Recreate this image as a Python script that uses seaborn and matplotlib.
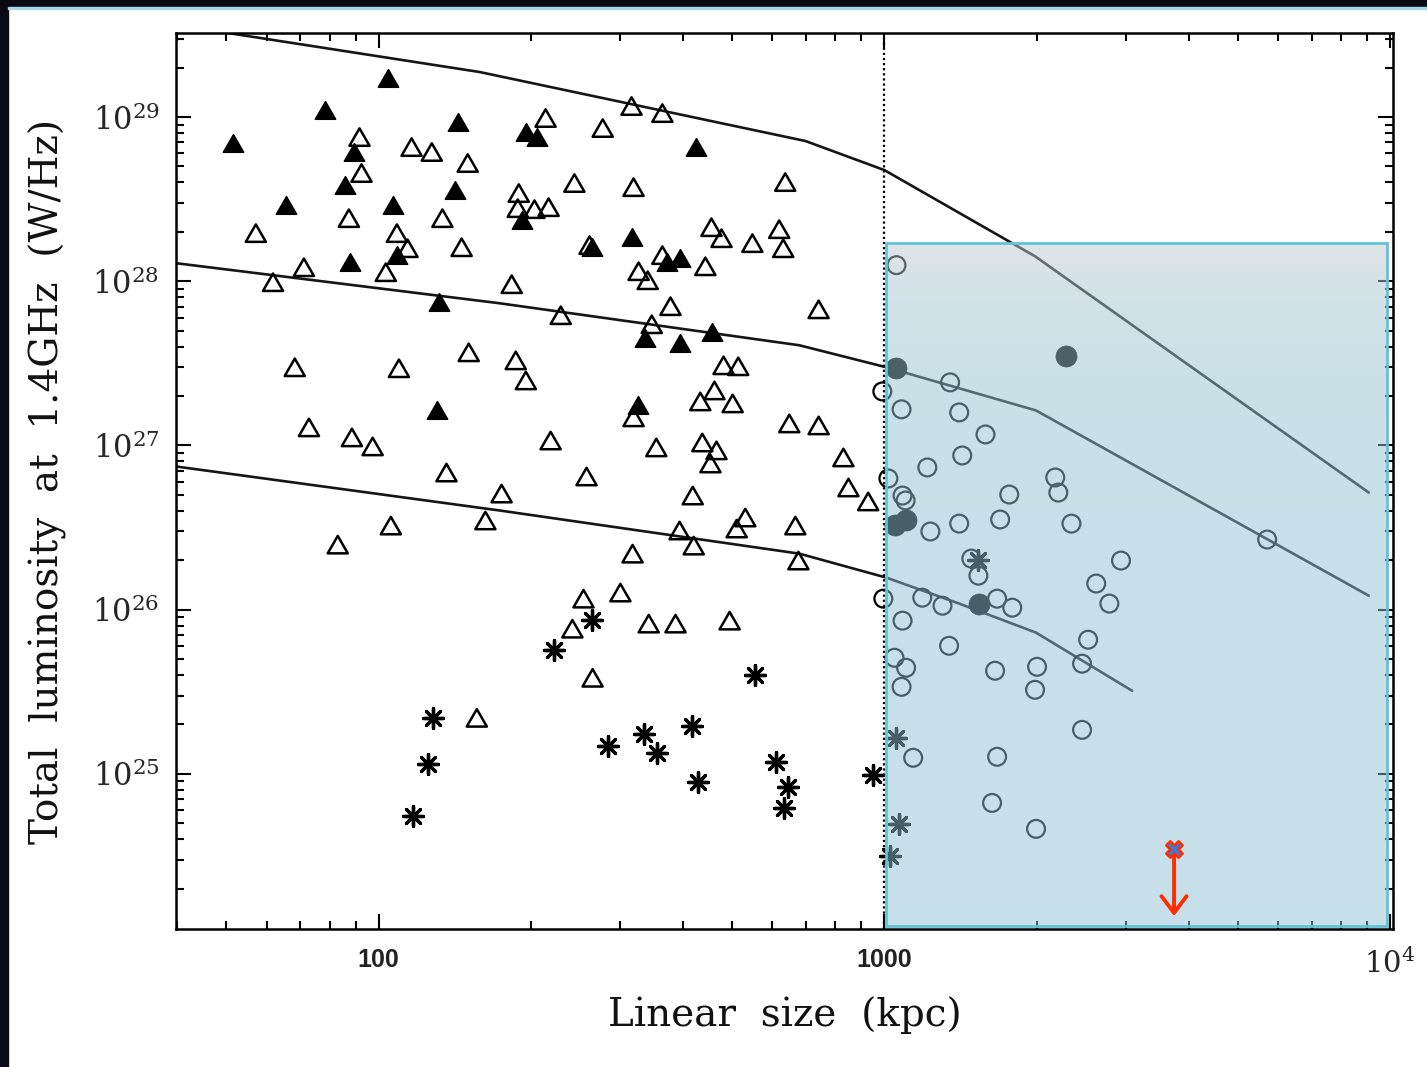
import numpy as np
import matplotlib
matplotlib.use("Agg")
import matplotlib.pyplot as plt
import seaborn as sns
from matplotlib.patches import Rectangle
from matplotlib.path import Path
from matplotlib.ticker import LogLocator, NullFormatter

# values: log10 linear size (kpc), log10 luminosity (W/Hz)
filled_tri_logD = [1.711, 1.893, 2.018, 2.156, 1.951, 1.933, 2.150, 1.816, 2.028, 1.943, 2.036, 2.119, 2.115,
                   2.292, 2.314, 2.628, 2.283, 2.421, 2.500, 2.571, 2.595, 2.526, 2.595, 2.660, 2.512]
filled_tri_logP = [28.841, 29.043, 29.238, 28.970, 28.787, 28.585, 28.555, 28.463, 28.463, 28.116, 28.159, 27.872, 27.213,
                   28.909, 28.878, 28.817, 28.372, 28.207, 28.268, 28.116, 28.140, 27.652, 27.622, 27.689, 27.244]

open_tri_logD = [1.962, 2.065, 2.105, 2.176, 1.966, 1.757, 1.941, 2.126, 2.036, 2.057, 2.164, 1.852, 1.791, 2.014,
                 2.178, 2.500, 2.561, 2.330, 2.443, 2.387, 2.504, 2.804, 2.277, 2.275, 2.308, 2.336, 2.658, 2.678,
                 2.739, 2.792, 2.800, 2.561, 2.646, 2.514, 2.532, 2.417, 2.263, 2.577, 2.870, 2.360, 2.540, 2.271,
                 2.291, 2.682, 2.711, 2.664, 2.636, 2.700, 2.504, 2.812, 2.870, 2.340, 2.549, 2.640, 2.668, 2.656,
                 2.919, 2.411, 2.929, 2.968, 2.243, 2.211, 2.621, 2.725, 2.708, 2.824, 2.595, 2.623, 2.502, 2.830,
                 2.478, 2.405, 2.383, 2.534, 2.587, 2.694, 2.423, 1.834, 2.040, 1.862, 1.947, 1.988, 2.134, 2.024,
                 1.919, 2.194]
open_tri_logP = [28.878, 28.817, 28.787, 28.720, 28.659, 28.293, 28.384, 28.384, 28.293, 28.201, 28.207, 28.085, 27.994, 28.055,
                 27.567, 29.067, 29.024, 28.994, 28.933, 28.598, 28.573, 28.604, 28.537, 28.445, 28.439, 28.451, 28.329, 28.262,
                 28.232, 28.317, 28.201, 28.159, 28.091, 28.061, 28.006, 28.220, 27.982, 27.848, 27.829, 27.793, 27.738, 27.518,
                 27.396, 27.488, 27.482, 27.335, 27.268, 27.256, 27.171, 27.134, 27.122, 27.030, 26.988, 27.018, 26.970, 26.890,
                 26.927, 26.811, 26.744, 26.659, 26.707, 26.543, 26.695, 26.561, 26.494, 26.512, 26.482, 26.390, 26.341, 26.299,
                 26.104, 26.067, 25.884, 25.915, 25.915, 25.933, 25.585, 27.476, 27.470, 27.110, 27.049, 26.994, 26.835, 26.512,
                 26.396, 25.341]

star_logD = [2.421, 2.346, 2.745, 2.107, 2.097, 2.067, 2.453, 2.524, 2.551, 2.619, 2.632, 2.785, 2.810, 2.802,
             2.978, 3.024, 3.028, 3.012, 3.186]
star_logP = [25.939, 25.756, 25.604, 25.341, 25.061, 24.744, 25.171, 25.244, 25.128, 25.293, 24.951, 25.073, 24.921, 24.793,
             24.994, 25.220, 24.695, 24.500, 26.305]

open_circ_logD = [3.024, 2.996, 3.034, 3.130, 3.148, 3.085, 3.154, 3.200, 3.008, 3.036, 3.042, 3.091, 3.148, 3.172,
                  3.186, 2.998, 3.075, 3.115, 3.036, 3.128, 3.020, 3.043, 3.034, 3.338, 3.344, 3.247, 3.229, 3.370,
                  3.468, 3.419, 3.445, 3.223, 3.253, 3.403, 3.391, 3.219, 3.302, 3.298, 3.757, 3.391, 3.223, 3.213,
                  3.300, 3.057]
open_circ_logP = [28.098, 27.329, 27.220, 27.384, 27.201, 26.866, 26.939, 27.067, 26.799, 26.695, 26.665, 26.476, 26.524, 26.311,
                  26.207, 26.067, 26.073, 26.024, 25.933, 25.780, 25.707, 25.646, 25.530, 26.805, 26.713, 26.701, 26.549, 26.524,
                  26.299, 26.159, 26.037, 26.067, 26.012, 25.817, 25.671, 25.628, 25.652, 25.512, 26.427, 25.268, 25.104, 24.823,
                  24.665, 25.098]

filled_circ_logD = [3.024, 3.360, 3.022, 3.043, 3.188]
filled_circ_logP = [27.470, 27.543, 26.518, 26.549, 26.037]

# model tracks
track_logD = [
    [1.599, 2.200, 2.844, 3.000, 3.298, 3.958],
    [1.599, 2.239, 2.832, 3.004, 3.300, 3.958],
    [1.599, 2.239, 2.832, 3.004, 3.148, 3.300, 3.490],
]
track_logP = [
    [29.561, 29.274, 28.854, 28.677, 28.152, 26.713],
    [28.110, 27.866, 27.610, 27.476, 27.213, 26.085],
    [26.872, 26.604, 26.341, 26.195, 26.037, 25.860, 25.506],
]

box_size = (1007, 9860)
box_lum = (1.18e24, 1.71e28)
arrow_size = 3740
arrow_lum = (3.49e24, 1.36e24)

xticks = [100, 1000, 10000]
xtick_labels = ["100", "1000", r"$10^4$"]
yticks = [1e25, 1e26, 1e27, 1e28, 1e29]
ytick_labels = [r"$10^{25}$", r"$10^{26}$", r"$10^{27}$", r"$10^{28}$", r"$10^{29}$"]

sns.set_theme(style="white")
plt.rcParams["font.family"] = ["DejaVu Serif"]
plt.rcParams["mathtext.fontset"] = "dejavuserif"

fig = plt.figure(figsize=(14.27, 10.67), dpi=100)
ax = fig.add_axes([0.1233, 0.1293, 0.8529, 0.8398])
ax.set_xscale("log")
ax.set_yscale("log")

for d, p in zip(track_logD, track_logP):
    sns.lineplot(x=10 ** np.array(d), y=10 ** np.array(p), color="#151515", lw=1.9,
                 estimator=None, ax=ax, zorder=2)

ax.axvline(1000, color="black", ls=(0, (1, 1.3)), lw=1.6, zorder=2)

tri = Path([(-1, -0.866), (1, -0.866), (0, 0.866), (-1, -0.866)], closed=True)
sns.scatterplot(x=10 ** np.array(open_tri_logD), y=10 ** np.array(open_tri_logP), marker=tri, s=210,
                color="black", facecolor="none", edgecolor="black", linewidth=1.8, ax=ax, zorder=3)
sns.scatterplot(x=10 ** np.array(filled_tri_logD), y=10 ** np.array(filled_tri_logP), marker=tri, s=210,
                color="black", edgecolor="black", linewidth=1.2, ax=ax, zorder=3)
sns.scatterplot(x=10 ** np.array(star_logD), y=10 ** np.array(star_logP), marker=(8, 2, 0), s=200,
                color="black", linewidth=2.4, ax=ax, zorder=3)
sns.scatterplot(x=10 ** np.array(open_circ_logD), y=10 ** np.array(open_circ_logP), marker="o", s=165,
                color="black", facecolor="none", edgecolor="black", linewidth=1.6, ax=ax, zorder=3)
sns.scatterplot(x=10 ** np.array(filled_circ_logD), y=10 ** np.array(filled_circ_logP), marker="o", s=230,
                color="black", edgecolor="black", linewidth=0.5, ax=ax, zorder=3)

# translucent gradient box over the large sources
grad = np.zeros((256, 1, 4))
t = np.linspace(0, 1, 256)[:, None]
top_c = np.array([0.760, 0.792, 0.808])
bot_c = np.array([0.560, 0.756, 0.820])
grad[:, 0, :3] = top_c * (1 - t) + bot_c * t
grad[:, 0, 3] = 0.5
ax.imshow(grad, extent=(box_size[0], box_size[1], box_lum[0], box_lum[1]), origin="upper",
          aspect="auto", interpolation="bilinear", zorder=4)
ax.add_patch(Rectangle((box_size[0], box_lum[0]), box_size[1] - box_size[0], box_lum[1] - box_lum[0],
                       fill=False, ec="#62c2d8", lw=2.0, zorder=5))

ax.annotate("", xy=(arrow_size, arrow_lum[1]), xytext=(arrow_size, arrow_lum[0]),
            arrowprops=dict(arrowstyle="->,head_length=1.0,head_width=0.75", color="#ff2d00", lw=2.8,
                            shrinkA=0, shrinkB=0), zorder=6)
sns.scatterplot(x=[arrow_size], y=[arrow_lum[0]], marker="X", s=140, color="#3d7ad6",
                edgecolor="#ff2d00", linewidth=1.8, ax=ax, zorder=7)

ax.set_xlim(10 ** 1.599, 10 ** 4.006)
ax.set_ylim(10 ** 24.055, 10 ** 29.512)

ax.set_xticks(xticks, labels=xtick_labels)
ax.set_yticks(yticks, labels=ytick_labels)
ax.xaxis.set_minor_locator(LogLocator(base=10, subs=np.arange(2, 10), numticks=100))
ax.yaxis.set_minor_locator(LogLocator(base=10, subs=np.arange(2, 10), numticks=100))
ax.xaxis.set_minor_formatter(NullFormatter())
ax.yaxis.set_minor_formatter(NullFormatter())
ax.tick_params(which="both", direction="in", top=True, right=True, bottom=True, left=True,
               color="black", width=1.5)
ax.tick_params(which="major", length=11)
ax.tick_params(which="minor", length=6)
ax.tick_params(axis="y", which="major", labelsize=22, pad=12)
ax.tick_params(axis="x", which="major", labelsize=18, pad=14)
for lbl in ax.get_xticklabels():
    if lbl.get_text().startswith("$"):
        lbl.set_fontsize(21)
    else:
        lbl.set_fontfamily("Liberation Sans")
        lbl.set_fontweight("bold")
        lbl.set_color("#222222")
for s in ax.spines.values():
    s.set_color("black")
    s.set_linewidth(1.8)
ax.set_facecolor("white")

ax.set_xlabel("Linear  size  (kpc)", fontsize=28, labelpad=12, color="#111111")
ax.set_ylabel("Total  luminosity  at  1.4GHz  (W/Hz)", fontsize=28, labelpad=18, color="#111111")

# dark frame of the slide
fig.patches.append(Rectangle((0, 0), 8 / 1427, 1, transform=fig.transFigure, color="#0b0b16", zorder=0))
fig.patches.append(Rectangle((0, 1 - 7 / 1067), 1, 7 / 1067, transform=fig.transFigure, color="#0b0b16", zorder=0))
fig.patches.append(Rectangle((8 / 1427, 1 - 9 / 1067), 1, 2 / 1067, transform=fig.transFigure, color="#a8d8e8", zorder=0))

fig.savefig("out.png", dpi=100, facecolor="white")
